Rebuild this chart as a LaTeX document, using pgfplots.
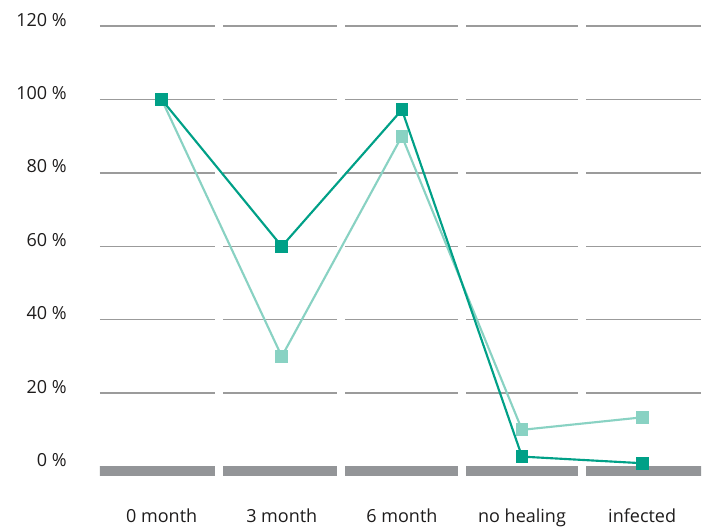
\documentclass[border=0pt]{standalone}
\usepackage{pgfplots}
\pgfplotsset{compat=1.18}
\usepackage{fontspec}
\setmainfont{Open Sans}
\definecolor{darkteal}{RGB}{0,160,135}
\definecolor{lightteal}{RGB}{137,210,195}
\definecolor{gridgray}{RGB}{155,155,155}
\definecolor{bargray}{RGB}{147,149,152}
\definecolor{txt}{RGB}{30,28,28}
\begin{document}
\begin{tikzpicture}
\begin{axis}[
  scale only axis,
  width=450.9pt, height=346.8pt,
  xmin=-0.515, xmax=4.49,
  ymin=-4, ymax=122,
  axis line style={draw=none},
  major tick length=0pt,
  xtick={0,1,2,3,4},
  xticklabels={0 month,3 month,6 month,no healing,infected},
  ytick={0,20,40,60,80,100,120},
  yticklabels={0 \%,20 \%,40 \%,60 \%,80 \%,100 \%,120 \%},
  ymajorgrids,
  grid style={gridgray, line width=1pt},
  tick label style={font=\fontsize{13.5}{15}\selectfont, text=txt},
  yticklabel style={anchor=base east, inner sep=0pt, xshift=-24.6pt},
  xticklabel style={anchor=base, inner sep=0pt, yshift=-30.8pt},
  typeset ticklabels with strut,
  clip=true,
]
% baseline bar
\addplot[bargray, line width=7.5pt, forget plot] coordinates {(-0.6,-1.35) (4.6,-1.35)};
% gaps between categories
\addplot[white, line width=6pt, forget plot, unbounded coords=jump] coordinates {
  (0.48,-10) (0.48,130) (1,nan)
  (1.49,-10) (1.49,130) (2,nan)
  (2.5,-10) (2.5,130) (3,nan)
  (3.5,-10) (3.5,130)};
% light series
\addplot[lightteal, line width=1.6pt, mark=square*, mark size=4.4pt, mark options={solid, draw=lightteal, fill=lightteal, line width=0pt}]
  coordinates {(0,100) (1,30) (2,90) (3,10) (4,13.4)};
% dark series
\addplot[darkteal, line width=1.6pt, mark=square*, mark size=4.4pt, mark options={solid, draw=darkteal, fill=darkteal, line width=0pt}]
  coordinates {(0,100) (1,60) (2,97.2) (3,2.7) (4,0.9)};
\end{axis}
\useasboundingbox (-74.85pt,-33.6pt) rectangle (453.9pt,360.9pt);
\end{tikzpicture}
\end{document}
